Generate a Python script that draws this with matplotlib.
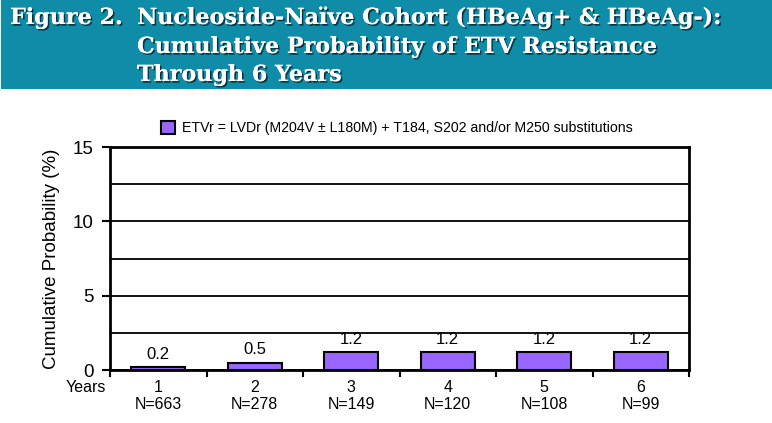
import matplotlib.pyplot as plt
import matplotlib.patheffects as pe
from matplotlib.patches import Rectangle
from matplotlib.transforms import blended_transform_factory

# data
years = ["1", "2", "3", "4", "5", "6"]
n_pat = ["N=663", "N=278", "N=149", "N=120", "N=108", "N=99"]
prob = [0.2, 0.5, 1.2, 1.2, 1.2, 1.2]
legend_label = "ETVr = LVDr (M204V \u00b1 L180M) + T184, S202 and/or M250 substitutions"

plt.rcParams['font.family'] = ['Liberation Sans', 'DejaVu Sans']

fig = plt.figure(figsize=(7.72, 4.23), dpi=100)

# teal title banner
fig.patches.append(Rectangle((0.0013, 1 - 89 / 423), 1, 89 / 423, transform=fig.transFigure,
                             facecolor='#0e8ca8', edgecolor='none', zorder=0))
shadow = [pe.withSimplePatchShadow(offset=(1.2, -1.2), shadow_rgbFace='#0a2a33', alpha=0.9), pe.Normal()]
title_kw = dict(color='white', fontsize=16, fontweight='bold', family='DejaVu Serif',
                va='baseline', path_effects=shadow)
fig.text(10 / 772, 1 - 24 / 423, "Figure 2.", **title_kw)
fig.text(137 / 772, 1 - 24 / 423, "Nucleoside-Na\u00efve Cohort (HBeAg+ & HBeAg-):", **title_kw)
fig.text(137 / 772, 1 - 53 / 423, "Cumulative Probability of ETV Resistance", **title_kw)
fig.text(137 / 772, 1 - 81 / 423, "Through 6 Years", **title_kw)

ax = fig.add_axes([110 / 772, 1 - 370 / 423, (689 - 110) / 772, (370 - 147) / 423])
x = list(range(len(years)))
bars = ax.bar(x, prob, width=0.56, color='#9966ff', edgecolor='black', linewidth=1.5,
              label=legend_label, zorder=3)
for xi, v in zip(x, prob):
    ax.text(xi, v + 0.35, f"{v:.1f}", ha='center', va='bottom', fontsize=12)

ax.set_xlim(-0.5, len(years) - 0.5)
ax.set_ylim(0, 15)
ax.set_yticks([0, 5, 10, 15])
ax.set_yticks([2.5, 7.5, 12.5], minor=True)
ax.yaxis.grid(True, which='both', color='black', linewidth=1.3, zorder=1)
ax.set_axisbelow(True)
ax.tick_params(axis='y', which='major', direction='out', length=6, width=1.5, labelsize=13.5, pad=6)
ax.tick_params(axis='y', which='minor', length=0)

# category boundary ticks on x axis
ax.set_xticks([i - 0.5 for i in range(len(years) + 1)])
ax.set_xticklabels([])
ax.tick_params(axis='x', direction='out', length=5, width=1.5)
trans = blended_transform_factory(ax.transData, ax.transAxes)
for xi, y, n in zip(x, years, n_pat):
    ax.text(xi, -0.045, y + "\n" + n, transform=trans, ha='center', va='top',
            fontsize=11.5, linespacing=1.15)
ax.text(-0.54, -0.045, "Years", transform=trans, ha='right', va='top', fontsize=11.5)

for s in ax.spines.values():
    s.set_linewidth(2)
    s.set_color('black')

ax.set_ylabel("Cumulative Probability (%)", fontsize=13.5, labelpad=9)

fig.legend(handles=[bars], labels=[legend_label], loc='center', bbox_to_anchor=(0.514, 1 - 128 / 423),
           frameon=False, fontsize=10.2, handlelength=1.0, handleheight=1.0, handletextpad=0.5)

fig.savefig("out.png", dpi=100)
